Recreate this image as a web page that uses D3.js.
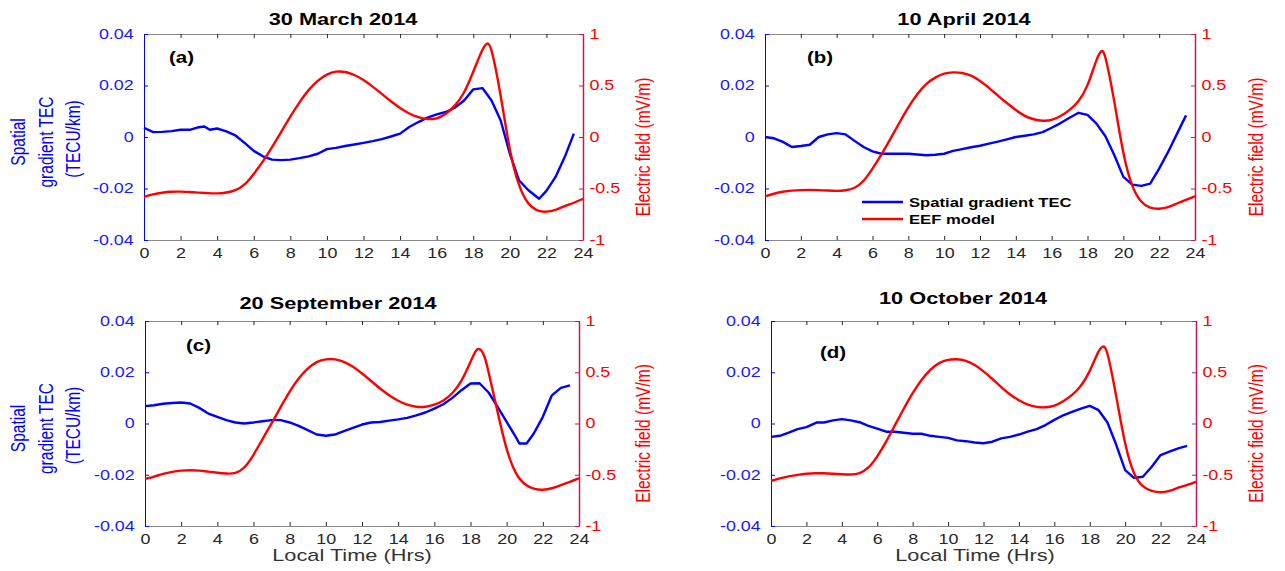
<!DOCTYPE html>
<html>
<head>
<meta charset="utf-8">
<script src="https://cdn.jsdelivr.net/npm/d3@7"></script>
<style>
    body { margin: 0; background: #fff; }
    svg { font-family: "Liberation Sans", Arial, sans-serif; }
</style>
</head>
<body>
<svg id="fig" width="1285" height="571"></svg>
<script>
// ---- data ----
const hourTicks = [0, 2, 4, 6, 8, 10, 12, 14, 16, 18, 20, 22, 24]
const tecTicks = [-0.04, -0.02, 0, 0.02, 0.04]
const efTicks = [-1, -0.5, 0, 0.5, 1]
const titles = ['30 March 2014', '10 April 2014', '20 September 2014', '10 October 2014']
const letters = ['(a)', '(b)', '(c)', '(d)']
const legendNames = ['Spatial gradient TEC', 'EEF model']

// spatial gradient TEC (TECU/km), [hour, value]
const tecA = [[0,0.0036],[0.5,0.0019],[1,0.002],[1.5,0.0023],[2,0.0028],[2.5,0.0028],[3,0.0038],[3.3,0.0041],[3.6,0.0028],[4,0.0033],[4.5,0.0022],[5,0.0006],[5.5,-0.0023],[6,-0.0054],[6.5,-0.0075],[7,-0.0088],[7.5,-0.009],[8,-0.0088],[8.5,-0.0082],[9,-0.0075],[9.5,-0.0065],[10,-0.0047],[10.5,-0.0042],[11,-0.0035],[11.5,-0.0029],[12,-0.0023],[12.5,-0.0016],[13,-0.0008],[13.5,0.0002],[14,0.0013],[14.5,0.0039],[15,0.0058],[15.5,0.0075],[16,0.0088],[16.5,0.0097],[17,0.0114],[17.5,0.0142],[18,0.0185],[18.5,0.019],[19,0.0142],[19.5,0.0064],[20,-0.0065],[20.5,-0.0168],[21,-0.0206],[21.6,-0.024],[22,-0.0209],[22.5,-0.0155],[23,-0.0078],[23.5,0.0013]]
const tecB = [[0,0],[0.5,-0.0005],[1,-0.0019],[1.5,-0.0039],[2,-0.0035],[2.5,-0.003],[3,0],[3.5,0.001],[4,0.0015],[4.5,0.001],[5,-0.0015],[5.5,-0.0039],[6,-0.0056],[6.5,-0.0065],[7,-0.0065],[7.5,-0.0065],[8,-0.0065],[8.5,-0.0068],[9,-0.0071],[9.5,-0.0069],[10,-0.0065],[10.5,-0.0054],[11,-0.0047],[11.5,-0.004],[12,-0.0034],[12.5,-0.0026],[13,-0.0018],[13.5,-0.0009],[14,0],[14.5,0.0005],[15,0.001],[15.5,0.0019],[16,0.0036],[16.5,0.0054],[17,0.0075],[17.5,0.0094],[18,0.0086],[18.5,0.0052],[19,0.0003],[19.5,-0.0071],[20,-0.0155],[20.5,-0.0185],[21,-0.019],[21.5,-0.0181],[22,-0.0123],[22.5,-0.0058],[23,0.0013],[23.5,0.0084]]
const tecC = [[0,0.0068],[0.5,0.0071],[1,0.0077],[1.5,0.008],[2,0.0082],[2.5,0.0078],[3,0.0061],[3.5,0.0039],[4,0.0026],[4.5,0.0013],[5,0.0004],[5.5,0],[6,0.0004],[6.5,0.0009],[7,0.0013],[7.5,0.0013],[8,0.0004],[8.5,-0.0009],[9,-0.0026],[9.5,-0.0043],[10,-0.0048],[10.5,-0.0043],[11,-0.003],[11.5,-0.0017],[12,-0.0004],[12.5,0.0004],[13,0.0006],[13.5,0.0011],[14,0.0016],[14.5,0.0022],[15,0.0032],[15.5,0.0043],[16,0.0058],[16.5,0.0075],[17,0.01],[17.5,0.013],[18,0.0156],[18.5,0.0157],[19,0.0121],[19.5,0.0065],[20,0.0006],[20.5,-0.0052],[20.7,-0.0078],[21.1,-0.0078],[21.5,-0.0039],[22,0.0026],[22.5,0.011],[23,0.0139],[23.5,0.0149]]
const tecD = [[0,-0.0052],[0.5,-0.0048],[1,-0.0036],[1.5,-0.0022],[2,-0.0014],[2.6,0.0004],[3,0.0004],[3.5,0.0012],[4,0.0017],[4.5,0.0012],[5,0.0005],[5.5,-0.0009],[6,-0.002],[6.5,-0.0032],[7,-0.0032],[7.5,-0.0036],[8,-0.004],[8.5,-0.004],[9,-0.0048],[9.5,-0.0052],[10,-0.0056],[10.5,-0.0066],[11,-0.0069],[11.5,-0.0074],[12,-0.0077],[12.5,-0.0071],[13,-0.0058],[13.5,-0.0052],[14,-0.0043],[14.5,-0.0032],[15,-0.0022],[15.5,-0.0006],[16,0.0014],[16.5,0.0032],[17,0.0045],[17.5,0.0058],[18,0.0069],[18.5,0.0052],[19,0.0004],[19.5,-0.0084],[20,-0.0182],[20.5,-0.0212],[21,-0.0208],[21.5,-0.0169],[22,-0.0123],[22.5,-0.011],[23,-0.0097],[23.5,-0.0087]]

// EEF model electric field (mV/m), [hour, value]
const efA = [[0,-0.58],[0.5,-0.555],[1,-0.54],[1.5,-0.53],[2,-0.53],[2.5,-0.533],[3,-0.54],[3.5,-0.545],[4,-0.55],[4.5,-0.54],[5,-0.52],[5.5,-0.47],[6,-0.36],[6.5,-0.24],[7,-0.1],[7.5,0.05],[8,0.2],[8.5,0.34],[9,0.46],[9.5,0.55],[10,0.61],[10.5,0.64],[11,0.635],[11.5,0.605],[12,0.555],[12.5,0.49],[13,0.42],[13.5,0.345],[14,0.28],[14.5,0.225],[15,0.19],[15.5,0.17],[16,0.175],[16.5,0.22],[17,0.3],[17.5,0.42],[18,0.63],[18.5,0.86],[18.8,0.93],[19,0.87],[19.5,0.42],[20,-0.16],[20.5,-0.49],[21,-0.66],[21.5,-0.72],[22,-0.73],[22.5,-0.71],[23,-0.67],[23.5,-0.64],[24,-0.6]]
const efB = [[0,-0.575],[0.5,-0.55],[1,-0.53],[1.5,-0.52],[2,-0.515],[2.5,-0.513],[3,-0.515],[3.5,-0.52],[4,-0.525],[4.5,-0.52],[5,-0.5],[5.5,-0.435],[6,-0.31],[6.5,-0.17],[7,-0.02],[7.5,0.14],[8,0.29],[8.5,0.42],[9,0.52],[9.5,0.58],[10,0.62],[10.5,0.63],[11,0.625],[11.5,0.6],[12,0.545],[12.5,0.48],[13,0.4],[13.5,0.33],[14,0.26],[14.5,0.2],[15,0.17],[15.5,0.155],[16,0.16],[16.5,0.2],[17,0.26],[17.5,0.34],[18,0.48],[18.5,0.76],[18.8,0.86],[19,0.8],[19.5,0.355],[20,-0.19],[20.5,-0.5],[21,-0.64],[21.5,-0.695],[22,-0.7],[22.5,-0.685],[23,-0.645],[23.5,-0.61],[24,-0.575]]
const efC = [[0,-0.54],[0.5,-0.52],[1,-0.49],[1.5,-0.47],[2,-0.458],[2.5,-0.455],[3,-0.458],[3.5,-0.47],[4,-0.48],[4.5,-0.49],[5,-0.49],[5.5,-0.44],[6,-0.31],[6.5,-0.15],[7,0],[7.5,0.16],[8,0.315],[8.5,0.445],[9,0.54],[9.5,0.605],[10,0.63],[10.5,0.63],[11,0.605],[11.5,0.555],[12,0.49],[12.5,0.415],[13,0.34],[13.5,0.275],[14,0.22],[14.5,0.18],[15,0.16],[15.5,0.16],[16,0.18],[16.5,0.22],[17,0.29],[17.5,0.405],[18,0.6],[18.3,0.72],[18.5,0.74],[18.8,0.66],[19,0.5],[19.5,0.11],[20,-0.275],[20.5,-0.5],[21,-0.6],[21.5,-0.64],[22,-0.65],[22.5,-0.635],[23,-0.6],[23.5,-0.57],[24,-0.535]]
const efD = [[0,-0.56],[0.5,-0.535],[1,-0.515],[1.5,-0.5],[2,-0.49],[2.5,-0.485],[3,-0.485],[3.5,-0.49],[4,-0.495],[4.5,-0.5],[5,-0.49],[5.5,-0.44],[6,-0.325],[6.5,-0.18],[7,-0.015],[7.5,0.145],[8,0.3],[8.5,0.43],[9,0.53],[9.5,0.595],[10,0.625],[10.5,0.63],[11,0.615],[11.5,0.575],[12,0.51],[12.5,0.435],[13,0.355],[13.5,0.28],[14,0.225],[14.5,0.18],[15,0.16],[15.5,0.155],[16,0.17],[16.5,0.215],[17,0.275],[17.5,0.36],[18,0.5],[18.5,0.72],[18.8,0.77],[19,0.71],[19.5,0.27],[20,-0.23],[20.5,-0.51],[21,-0.625],[21.5,-0.66],[22,-0.675],[22.5,-0.66],[23,-0.625],[23.5,-0.6],[24,-0.57]]

const tecSeries = [tecA, tecB, tecC, tecD]
const efSeries = [efA, efB, efC, efD]

// ---- layout ----
const SX = 1.28   // the original figure is stretched sideways
const BLUE = '#0000ff'
const RED = '#ff0000'
const RAXIS = '#c2185b'
const GREY = '#262626'

let panels = [
    { L: 144, R: 583, T: 34, B: 240, tx: 343, ty: 25, lx: 169, ly: 63, leftLab: true, rlx: 650, bottomLab: false },
    { L: 765, R: 1195, T: 34, B: 240, tx: 964, ty: 25, lx: 807, ly: 63, leftLab: false, rlx: 1263, bottomLab: false, legend: true },
    { L: 145, R: 579, T: 321, B: 526, tx: 338, ty: 309, lx: 186, ly: 351, leftLab: true, rlx: 650, bottomLab: true, bx: 352 },
    { L: 771, R: 1196, T: 321, B: 526, tx: 963, ty: 304, lx: 820, ly: 358, leftLab: false, rlx: 1263, bottomLab: true, bx: 975 }
]

let svg = d3.select('#fig')

function putText(g, x, y, str, size, opts) {
    opts = opts || {}
    let t = g.append('text')
        .attr('transform', `translate(${x},${y}) scale(${SX},1)` + (opts.rot ? ' rotate(-90)' : ''))
        .attr('font-size', size)
        .attr('fill', opts.fill || '#000')
        .attr('text-anchor', opts.anchor || 'middle')
        .text(str)
    if (opts.bold) t.attr('font-weight', 'bold')
    return t
}

let fmtTec = d => d === 0 ? '0' : d.toFixed(2)
let fmtEf = d => d < 0 ? '-' + Math.abs(d) : String(d)

panels.forEach((p, i) => {
    let g = svg.append('g')

    let x = d3.scaleLinear().domain([0, 24]).range([p.L, p.R])
    let yL = d3.scaleLinear().domain([-0.04, 0.04]).range([p.B, p.T])
    let yR = d3.scaleLinear().domain([-1, 1]).range([p.B, p.T])

    // bottom axis
    let ax = g.append('g')
        .attr('transform', `translate(0,${p.B})`)
        .call(d3.axisBottom(x).tickValues(hourTicks).tickSize(-4).tickSizeOuter(0).tickPadding(8).tickFormat(d => d))
    ax.select('.domain').attr('stroke', '#8a8a8a')
    ax.selectAll('.tick line').attr('stroke', GREY)
    ax.selectAll('text').attr('font-size', 14).attr('fill', GREY)
        .attr('font-family', '"Liberation Sans", Arial, sans-serif')
        .attr('transform', `scale(${SX},1)`)

    // top axis, ticks only
    let at = g.append('g')
        .attr('transform', `translate(0,${p.T})`)
        .call(d3.axisTop(x).tickValues(hourTicks).tickSize(-4).tickSizeOuter(0).tickFormat(''))
    at.select('.domain').attr('stroke', '#8a8a8a')
    at.selectAll('.tick line').attr('stroke', GREY)

    // left axis (TEC)
    let al = g.append('g')
        .attr('transform', `translate(${p.L},0)`)
        .call(d3.axisLeft(yL).tickValues(tecTicks).tickSize(-4).tickSizeOuter(0).tickPadding(8).tickFormat(fmtTec))
    al.select('.domain').attr('stroke', BLUE)
    al.selectAll('.tick line').attr('stroke', BLUE)
    al.selectAll('text').attr('font-size', 14).attr('fill', '#1a1aff')
        .attr('font-family', '"Liberation Sans", Arial, sans-serif')
        .attr('transform', `scale(${SX},1)`)

    // right axis (electric field)
    let ar = g.append('g')
        .attr('transform', `translate(${p.R},0)`)
        .call(d3.axisRight(yR).tickValues(efTicks).tickSize(-4).tickSizeOuter(0).tickPadding(5).tickFormat(fmtEf))
    ar.select('.domain').attr('stroke', RAXIS).attr('stroke-width', 1.5)
    ar.selectAll('.tick line').attr('stroke', RAXIS)
    ar.selectAll('text').attr('font-size', 14).attr('fill', RED)
        .attr('font-family', '"Liberation Sans", Arial, sans-serif')
        .attr('transform', `scale(${SX},1)`)

    // curves
    let tecLine = d3.line().x(d => x(d[0])).y(d => yL(d[1]))
    let efLine = d3.line().x(d => x(d[0])).y(d => yR(d[1])).curve(d3.curveBasis)

    g.append('path')
        .datum(tecSeries[i])
        .attr('d', tecLine)
        .attr('fill', 'none')
        .attr('stroke', BLUE)
        .attr('stroke-width', 2.4)
        .attr('stroke-linejoin', 'round')

    g.append('path')
        .datum(efSeries[i])
        .attr('d', efLine)
        .attr('fill', 'none')
        .attr('stroke', RED)
        .attr('stroke-width', 2.4)

    // texts
    putText(g, p.tx, p.ty, titles[i], 17, { bold: true })
    putText(g, p.lx, p.ly, letters[i], 16, { bold: true, anchor: 'start' })

    let cy = (p.T + p.B) / 2
    if (p.leftLab) {
        putText(g, 25, cy + 5, 'Spatial', 15.5, { rot: true, fill: BLUE })
        putText(g, 53, cy + 5, 'gradient TEC', 15.5, { rot: true, fill: BLUE })
        putText(g, 80, cy + 2, '(TECU/km)', 15.5, { rot: true, fill: BLUE })
    }
    putText(g, p.rlx, cy + 10, 'Electric field (mV/m)', 15.5, { rot: true, fill: RED })

    if (p.bottomLab) {
        putText(g, p.bx, 561, 'Local Time (Hrs)', 17, { fill: '#333' })
    }

    if (p.legend) {
        let colors = [BLUE, RED]
        legendNames.forEach((name, k) => {
            let ly = 202 + k * 17
            g.append('line')
                .attr('x1', 862).attr('x2', 903)
                .attr('y1', ly).attr('y2', ly)
                .attr('stroke', colors[k])
                .attr('stroke-width', 2.4)
            putText(g, 909, ly + 5, name, 13, { bold: true, anchor: 'start' })
        })
    }
})
</script>
</body>
</html>
